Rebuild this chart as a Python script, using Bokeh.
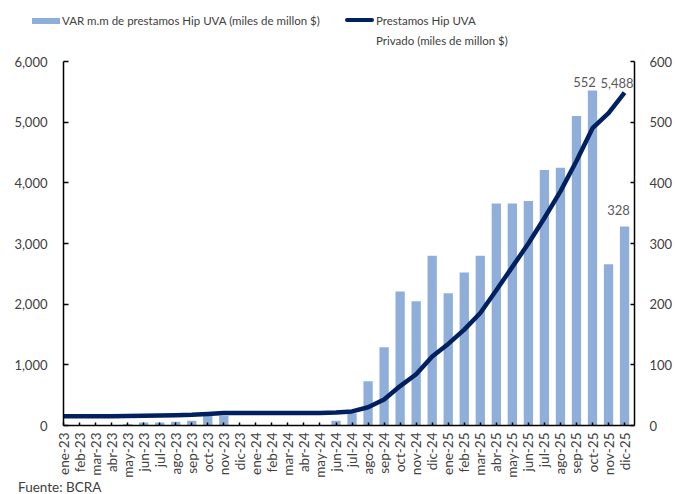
from bokeh.plotting import figure
from bokeh.models import (Range1d, LinearAxis, FixedTicker, NumeralTickFormatter,
                          Label, ColumnDataSource, Div)
from bokeh.layouts import column
from bokeh.embed import file_html
from bokeh.resources import INLINE
import math

months = ["ene-23", "feb-23", "mar-23", "abr-23", "may-23", "jun-23", "jul-23", "ago-23",
          "sep-23", "oct-23", "nov-23", "dic-23", "ene-24", "feb-24", "mar-24", "abr-24",
          "may-24", "jun-24", "jul-24", "ago-24", "sep-24", "oct-24", "nov-24", "dic-24",
          "ene-25", "feb-25", "mar-25", "abr-25", "may-25", "jun-25", "jul-25", "ago-25",
          "sep-25", "oct-25", "nov-25", "dic-25"]

# VAR m.m de prestamos Hip UVA (right axis)
var_mm = [0, 0, 1, 1, 2, 5, 5, 6, 8, 16, 16, -2, -2, 0, -1, 1, 1, 8, 20, 73, 129, 221,
          205, 280, 218, 252, 280, 366, 366, 370, 421, 425, 510, 552, 266, 328]

# Prestamos Hip UVA Privado (left axis)
stock = [152, 152, 152, 153, 155, 159, 164, 170, 176, 190, 205, 206, 205, 205, 204, 205,
         206, 214, 232, 300, 430, 650, 845, 1137, 1345, 1580, 1855, 2230, 2615, 3000,
         3420, 3860, 4360, 4900, 5150, 5488]

left_ticks = [0, 1000, 2000, 3000, 4000, 5000, 6000]
right_ticks = [0, 100, 200, 300, 400, 500, 600]

legend_bar_label = "VAR m.m de prestamos Hip UVA (miles de millon $)"
legend_line_label = ["Prestamos Hip UVA", "Privado (miles de millon $)"]
source_note = "Fuente: BCRA"

FONT = "Lato"
BAR_COLOR = "#8FAEDA"
LINE_COLOR = "#002060"
TXT = "#404040"
ANN = "#595959"
W = 675

# ---------------- legend (HTML strip above the chart) ----------------
legend_html = f"""
<div style="position:relative;width:{W}px;height:50px;overflow:hidden;
            font-family:'{FONT}';font-size:11.5px;color:{TXT};">
  <div style="position:absolute;left:32px;top:18px;width:28px;height:5.5px;
              background:{BAR_COLOR};"></div>
  <span style="position:absolute;left:62px;top:13px;line-height:15px;white-space:nowrap;">{legend_bar_label}</span>
  <div style="position:absolute;left:345px;top:18px;width:29px;height:4px;
              border-radius:2px;background:{LINE_COLOR};"></div>
  <span style="position:absolute;left:376px;top:13px;line-height:15px;white-space:nowrap;">{legend_line_label[0]}</span>
  <span style="position:absolute;left:376px;top:33px;line-height:15px;white-space:nowrap;">{legend_line_label[1]}</span>
</div>
"""
legend_div = Div(text=legend_html, width=W, height=50, margin=0)

# ---------------- main chart ----------------
idx = list(range(len(months)))
src = ColumnDataSource(dict(x=idx, var=var_mm, stock=stock))

p = figure(width=W, height=430, output_backend="svg", toolbar_location=None,
           x_range=Range1d(0, 35.62), y_range=Range1d(0, 6000),
           min_border_left=63, min_border_right=40, min_border_top=11, min_border_bottom=54)
p.outline_line_color = None
p.xgrid.visible = False
p.ygrid.visible = False

p.extra_y_ranges = {"right": Range1d(0, 600)}

p.vbar(x="x", top="var", width=0.58, source=src, y_range_name="right",
       fill_color=BAR_COLOR, line_color=None)
p.line(x="x", y="stock", source=src, line_color=LINE_COLOR, line_width=4.5,
       line_join="round")


def style_axis(ax, size="13px"):
    ax.axis_line_color = "black"
    ax.axis_line_width = 1.5
    ax.major_tick_line_color = "black"
    ax.major_tick_line_width = 1.5
    ax.minor_tick_line_color = None
    ax.major_label_text_font = FONT
    ax.major_label_text_font_size = size
    ax.major_label_text_color = TXT


xa = p.xaxis[0]
xa.ticker = FixedTicker(ticks=idx)
xa.major_label_overrides = {i: m for i, m in enumerate(months)}
xa.major_label_orientation = math.pi / 2
xa.major_tick_in = 3
xa.major_tick_out = 0
xa.major_label_standoff = 7
style_axis(xa, "13.5px")

ya = p.yaxis[0]
ya.ticker = FixedTicker(ticks=left_ticks)
ya.formatter = NumeralTickFormatter(format="0,0")
ya.major_tick_in = 5
ya.major_tick_out = 0
ya.major_label_standoff = 16
style_axis(ya)

ra = LinearAxis(y_range_name="right", ticker=FixedTicker(ticks=right_ticks))
ra.major_tick_in = 4
ra.major_tick_out = 0
ra.major_label_standoff = 15
style_axis(ra)
p.add_layout(ra, "right")

ann_font = "13px"
p.add_layout(Label(x=33, y=var_mm[33], y_range_name="right", text=f"{var_mm[33]}",
                   text_align="center", text_baseline="middle", x_offset=-8, y_offset=9,
                   text_font=FONT, text_font_size=ann_font, text_color=ANN))
p.add_layout(Label(x=35, y=var_mm[35], y_range_name="right", text=f"{var_mm[35]}",
                   text_align="center", text_baseline="middle", x_offset=-6, y_offset=17,
                   text_font=FONT, text_font_size=ann_font, text_color=ANN))
p.add_layout(Label(x=35, y=stock[35], text=f"{stock[35]:,}", text_align="right",
                   text_baseline="middle", x_offset=9, y_offset=10,
                   text_font=FONT, text_font_size=ann_font, text_color=ANN))

# ---------------- source note ----------------
note_html = f"""
<div style="position:relative;width:{W}px;height:14px;overflow:hidden;
            font-family:'{FONT}';font-size:13.5px;color:{TXT};">
  <span style="position:absolute;left:18px;top:0px;line-height:14px;white-space:nowrap;">{source_note}</span>
</div>
"""
note_div = Div(text=note_html, width=W, height=14, margin=0)

layout = column(legend_div, p, note_div, spacing=0)
open("out.html", "w").write(file_html(layout, INLINE))
